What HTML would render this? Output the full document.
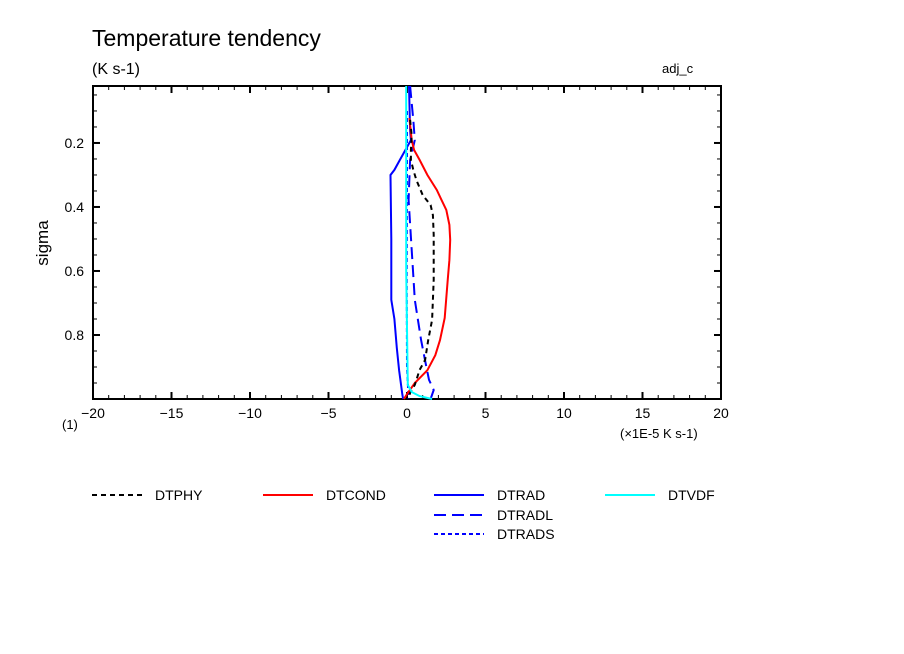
<!DOCTYPE html>
<html><head><meta charset="utf-8"><style>
html,body{margin:0;padding:0;background:#fff;}
svg{display:block;font-family:"Liberation Sans",sans-serif;}
</style></head><body>
<svg id="chart" width="904" height="654" viewBox="0 0 904 654">
<text x="92" y="46" font-size="23" fill="#000">Temperature tendency</text>
<text x="92" y="74" font-size="16" fill="#000">(K s-1)</text>
<text x="662" y="73" font-size="13" fill="#000">adj_c</text>
<text x="48" y="243" font-size="17" fill="#000" transform="rotate(-90 48 243)" text-anchor="middle">sigma</text>
<text x="62" y="429" font-size="13" fill="#000">(1)</text>
<text x="620" y="438" font-size="13" fill="#000">(×1E-5 K s-1)</text>
<g id="axes"></g>
<g id="series"></g>
<g id="legend"></g>
</svg>
<script>
const xTicks = [-20,-15,-10,-5,0,5,10,15,20];
const yTicks = [0.2,0.4,0.6,0.8];
const yLabels = ["0.2","0.4","0.6","0.8"];
const seriesNames = ["DTPHY","DTCOND","DTRAD","DTVDF","DTRADL","DTRADS"];
const sigDTRAD = [0.022,0.16,0.191,0.222,0.253,0.284,0.30,0.50,0.69,0.75,0.84,0.91,0.985,1.0];
const valDTRAD = [0.13,0.2,0.25,-0.1,-0.45,-0.8,-1.05,-1.0,-1.0,-0.8,-0.65,-0.5,-0.3,-0.25];
const sigDTRADL = [0.022,0.128,0.191,0.253,0.378,0.534,0.69,0.816,0.891,0.94,0.972,1.0];
const valDTRADL = [0.2,0.4,0.5,0.2,0.1,0.3,0.5,0.9,1.2,1.4,1.7,1.5];
const sigDTRADS = [0.1,0.3,0.6,0.9,1.0];
const valDTRADS = [0.0,0.0,-0.02,0.0,0.1];
const sigDTVDF = [0.022,0.3,0.6,0.956,0.978,0.991,1.0];
const valDTVDF = [-0.05,-0.05,-0.05,0.05,0.3,0.8,1.6];
const sigDTCOND = [0.122,0.191,0.222,0.253,0.3,0.347,0.378,0.409,0.456,0.503,0.566,0.625,0.747,0.816,0.863,0.91,0.95,0.981,1.0];
const valDTCOND = [0.15,0.3,0.45,0.8,1.3,1.9,2.2,2.5,2.7,2.75,2.7,2.6,2.4,2.1,1.8,1.3,0.5,0.05,-0.2];
const sigDTPHY = [0.128,0.175,0.222,0.253,0.284,0.316,0.363,0.394,0.425,0.487,0.628,0.753,0.816,0.878,0.909,0.956,0.981,1.0];
const valDTPHY = [0.2,0.3,0.25,0.25,0.4,0.6,1.0,1.5,1.65,1.7,1.7,1.6,1.35,1.15,0.8,0.5,0.2,0.1];

const NS="http://www.w3.org/2000/svg";
const X0=93,X1=721,Y0=86,Y1=399,XMIN=-20,XMAX=20,SMIN=0.022,SMAX=1.0;
function xs(v){return X0+(v-XMIN)/(XMAX-XMIN)*(X1-X0);}
function ys(s){return Y0+(s-SMIN)/(SMAX-SMIN)*(Y1-Y0);}
function mk(tag,attrs,parent){const e=document.createElementNS(NS,tag);for(const k in attrs)e.setAttribute(k,attrs[k]);parent.appendChild(e);return e;}
const axes=document.getElementById('axes');
const frame=mk('rect',{x:X0,y:Y0,width:X1-X0,height:Y1-Y0,fill:'none',stroke:'#000','stroke-width':2},axes);


for(let v=XMIN;v<=XMAX;v++){
  const major=v%5===0, L=major?7:4, x=xs(v);
  const t1=mk('line',{x1:x,y1:Y1,x2:x,y2:Y1-L,stroke:'#000','stroke-width':major?2:1},axes);
  
  
  const t2=mk('line',{x1:x,y1:Y0,x2:x,y2:Y0+L,stroke:'#000','stroke-width':major?2:1},axes);
  
  
}
xTicks.forEach(v=>{
  const t=mk('text',{x:xs(v),y:418,'font-size':14,'text-anchor':'middle'},axes);
  t.textContent=(v<0?'−':'')+Math.abs(v);
  
  
});
for(let i=1;i<20;i++){
  const s=i*0.05; if(s<SMIN)continue; const major=i%4===0, L=major?7:4, y=ys(s);
  const t1=mk('line',{x1:X0,y1:y,x2:X0+L,y2:y,stroke:'#000','stroke-width':major?2:1},axes);
  
  
  const t2=mk('line',{x1:X1,y1:y,x2:X1-L,y2:y,stroke:'#000','stroke-width':major?2:1},axes);
  
  
}
yTicks.forEach((s,i)=>{
  const t=mk('text',{x:84,y:ys(s)+5,'font-size':14,'text-anchor':'end'},axes);
  t.textContent=yLabels[i];
  
  
});
const styles={
  DTPHY:{c:'#000',d:'5,4'},DTCOND:{c:'#f00',d:''},DTRAD:{c:'#00f',d:''},
  DTVDF:{c:'#0ff',d:''},DTRADL:{c:'#00f',d:'12,6'},DTRADS:{c:'#00f',d:'4,3'}};
const data={DTPHY:[sigDTPHY,valDTPHY],DTCOND:[sigDTCOND,valDTCOND],DTRAD:[sigDTRAD,valDTRAD],DTVDF:[sigDTVDF,valDTVDF],DTRADL:[sigDTRADL,valDTRADL],DTRADS:[sigDTRADS,valDTRADS]};
const series=document.getElementById('series');
["DTRADS","DTRADL","DTRAD","DTCOND","DTPHY","DTVDF"].forEach(n=>{
  const [sg,vl]=data[n];
  const pts=sg.map((s,i)=>xs(vl[i]).toFixed(1)+','+ys(s).toFixed(1)).join(' ');
  const p=mk('polyline',{points:pts,fill:'none',stroke:styles[n].c,'stroke-width':2,'stroke-dasharray':styles[n].d},series);
  
  
});
const legend=document.getElementById('legend');
const lpos={DTPHY:[92,495],DTCOND:[263,495],DTRAD:[434,495],DTVDF:[605,495],DTRADL:[434,515],DTRADS:[434,534]};
seriesNames.forEach(n=>{
  const [x,y]=lpos[n];
  const g=mk('g',{},legend);
  
  
  mk('line',{x1:x,y1:y,x2:x+50,y2:y,stroke:styles[n].c,'stroke-width':2,'stroke-dasharray':styles[n].d},g);
  const t=mk('text',{x:x+63,y:y+5,'font-size':14},g);
  t.textContent=n;
});
</script>
</body></html>
